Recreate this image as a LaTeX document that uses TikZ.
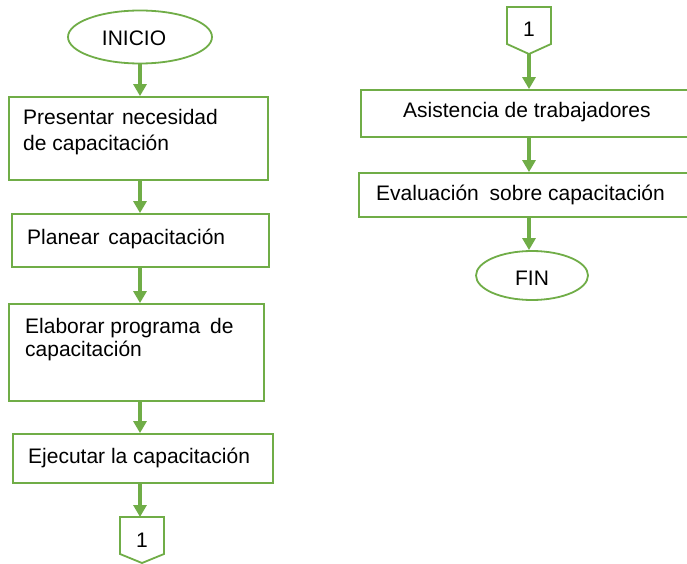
\documentclass[tikz,border=0pt]{standalone}
\usepackage{fontspec}
\setmainfont{Liberation Sans}
\usetikzlibrary{arrows.meta,shapes.geometric}
\definecolor{og}{RGB}{112,173,71}
\begin{document}
\begin{tikzpicture}[x=1pt,y=-1pt,
 box/.style={draw=og,line width=1.8pt,rectangle,inner sep=0pt},
 oval/.style={draw=og,line width=1.8pt,ellipse,inner sep=0pt},
 lbl/.style={inner sep=0pt,anchor=base west,font=\fontsize{21}{25}\selectfont},
 clbl/.style={inner sep=0pt,anchor=base,font=\fontsize{21}{25}\selectfont},
 arr/.style={draw=og,line width=3.3pt,-{Triangle[length=12pt,width=13pt]}},
 conn/.style={draw=og,line width=1.8pt,line join=miter}]
\useasboundingbox (0,0) rectangle (687,564);
\fill[white] (0,0) rectangle (687,564);
\coordinate (xl) at (140,0);
\coordinate (xr) at (529,0);
% left column
\node[oval,minimum width=144pt,minimum height=53pt] (ini) at (140,37) {};
\node[clbl] (iniT) at (134,46) {INICIO};
\node[box,minimum width=259pt,minimum height=83pt] (b1) at (138.5,138.5) {};
\node[lbl] (t1a) at (23,125) {Presentar\hspace{2pt} necesidad};
\node[lbl] (t1b) at (23,150) {de capacitación};
\node[box,minimum width=257pt,minimum height=53pt] (b2) at (140.5,240.5) {};
\node[lbl] (t2) at (27,244) {Planear\hspace{3pt} capacitación};
\node[box,minimum width=255pt,minimum height=97pt] (b3) at (136.5,352.5) {};
\node[lbl] (t3a) at (25,333) {Elaborar programa\hspace{4pt} de};
\node[lbl] (t3b) at (25,356) {capacitación};
\node[box,minimum width=260pt,minimum height=49pt] (b4) at (143,458.5) {};
\node[lbl] (t4) at (28,463) {Ejecutar la capacitación};
\draw[conn] (120,517) -- (164,517) -- (164,554) -- (142,563) -- (120,554) -- cycle;
\coordinate (c1top) at (142,517);
\node[clbl] (c1) at (142,547) {1};
% right column
\draw[conn] (507,7) -- (551,7) -- (551,44) -- (529,54) -- (507,44) -- cycle;
\coordinate (c2bot) at (529,54);
\node[clbl] (c2) at (529,37) {1};
\node[box,minimum width=331pt,minimum height=47pt] (b5) at (526.5,113.5) {};
\node[lbl] (t5) at (403,118) {Asistencia de trabajadores};
\node[box,minimum width=333pt,minimum height=44pt] (b6) at (525.5,195) {};
\node[lbl] (t6) at (376,200) {Evaluación\hspace{5pt} sobre capacitación};
\node[oval,minimum width=112pt,minimum height=49pt] (fin) at (532,275.5) {};
\node[clbl] (finT) at (532,285) {FIN};
% arrows
\draw[arr] (ini.south -| xl) -- (b1.north -| xl);
\draw[arr] (b1.south -| xl) -- (b2.north -| xl);
\draw[arr] (b2.south -| xl) -- (b3.north -| xl);
\draw[arr] (b3.south -| xl) -- (b4.north -| xl);
\draw[arr] (b4.south -| xl) -- (c1top -| xl);
\draw[arr] (c2bot -| xr) -- (b5.north -| xr);
\draw[arr] (b5.south -| xr) -- (b6.north -| xr);
\draw[arr] (b6.south -| xr) -- (fin.north -| xr);
\end{tikzpicture}
\end{document}
